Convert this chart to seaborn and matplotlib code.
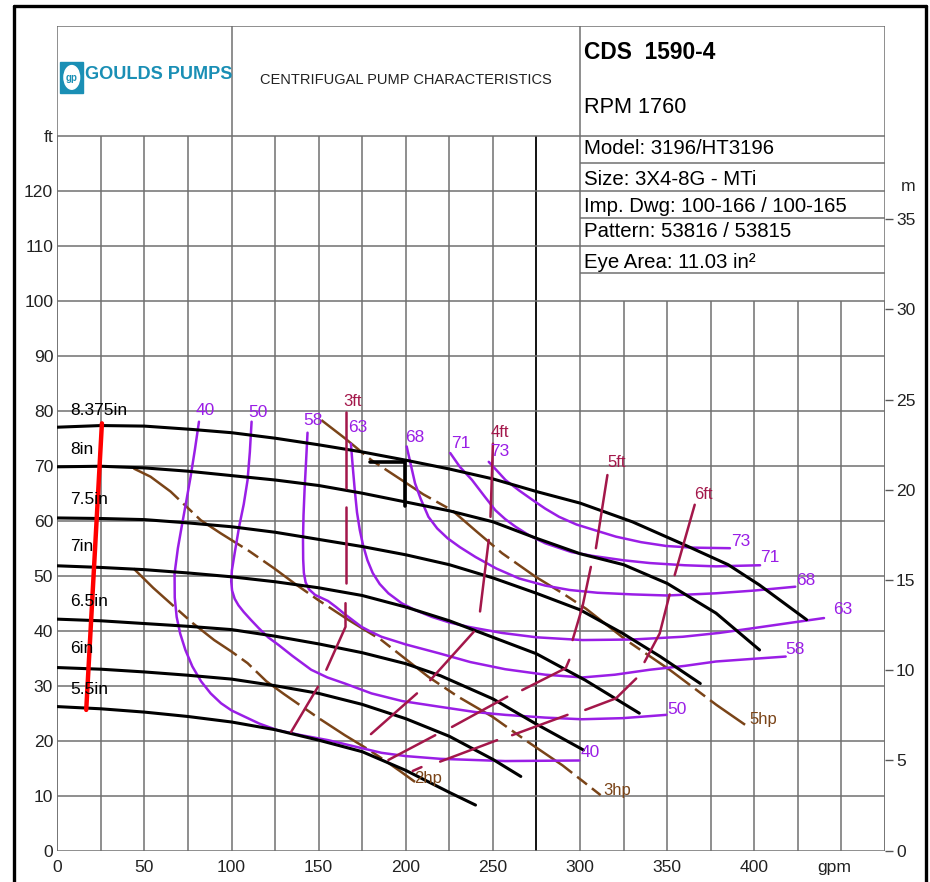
import pandas as pd
import matplotlib
matplotlib.use("Agg")
import matplotlib.pyplot as plt
import matplotlib.font_manager as fm
from matplotlib.lines import Line2D
from matplotlib.patches import Rectangle, Ellipse
import seaborn as sns

# impeller head curves (gpm, ft)
imp_labels = ["8.375in", "8in", "7.5in", "7in", "6.5in", "6in", "5.5in"]
imp_label_ft = [80, 72.9, 63.8, 55.3, 45.3, 36.8, 29.3]
h8375_q = [0, 25, 50, 77, 100, 125, 150, 175, 200, 225, 250, 275, 300, 330, 360, 385, 403, 430]
h8375_ft = [77.0, 77.3, 77.2, 76.6, 76.0, 75.0, 73.8, 72.5, 71.0, 69.4, 67.6, 65.3, 63.2, 59.8, 55.6, 52.0, 48.3, 42.0]
h8_q = [0, 25, 50, 75, 100, 125, 150, 175, 200, 225, 250, 275, 300, 325, 350, 378, 403]
h8_ft = [69.8, 69.9, 69.6, 69.0, 68.2, 67.4, 66.4, 65.0, 63.4, 61.8, 59.8, 56.8, 54.0, 52.0, 48.6, 43.2, 36.5]
h75_q = [0, 25, 50, 75, 100, 125, 150, 175, 200, 225, 250, 275, 300, 324, 346, 369]
h75_ft = [60.5, 60.4, 60.2, 59.6, 58.9, 57.9, 56.6, 55.3, 53.8, 52.0, 49.6, 46.8, 43.8, 39.6, 35.3, 30.4]
h7_q = [0, 25, 50, 75, 100, 125, 150, 175, 200, 225, 250, 275, 303, 334]
h7_ft = [51.8, 51.5, 51.1, 50.5, 49.8, 48.9, 47.8, 46.4, 44.3, 41.8, 38.8, 35.8, 31.0, 25.0]
h65_q = [0, 25, 50, 75, 100, 125, 150, 175, 200, 220, 250, 275, 302]
h65_ft = [42.1, 41.8, 41.3, 40.8, 40.2, 39.0, 37.6, 36.0, 34.0, 31.8, 27.6, 23.0, 18.3]
h6_q = [0, 25, 50, 75, 100, 125, 150, 175, 200, 225, 250, 266]
h6_ft = [33.3, 33.0, 32.5, 31.9, 31.2, 30.0, 28.6, 26.6, 24.0, 20.8, 16.6, 13.5]
h55_q = [0, 25, 50, 75, 100, 125, 150, 175, 200, 225, 240]
h55_ft = [26.2, 25.8, 25.2, 24.4, 23.4, 22.0, 20.1, 18.0, 14.6, 10.6, 8.3]

# efficiency contours (%)
eff_labels = ["40", "50", "58", "63", "68", "71", "73"]
e40_q = [81.3, 79.0, 76.5, 74.0, 71.7, 69.2, 67.3, 67.4, 68.5, 70.5, 73.5, 77.5, 82.5, 88.0, 94.0, 100.0, 107.3,
         116.0, 126.5, 140.0, 155.4, 170.0, 186.0, 200.0, 220.0, 257.0, 299.5]
e40_ft = [78.0, 73.0, 68.0, 63.5, 59.5, 55.0, 50.4, 46.0, 42.5, 39.5, 36.5, 33.5, 30.8, 28.6, 26.8, 25.5, 24.4,
          23.1, 21.9, 21.0, 20.1, 19.0, 17.8, 17.2, 16.7, 16.3, 16.4]
e50_q = [111.5, 110.5, 109.2, 107.0, 104.4, 102.0, 100.2, 99.8, 100.3, 101.8, 104.0, 107.0, 111.0, 115.5, 121.0,
         127.0, 135.0, 145.7, 155.0, 165.0, 180.3, 198.0, 218.8, 240.0, 257.0, 280.0, 301.0, 324.5, 349.5]
e50_ft = [78.0, 72.5, 67.4, 63.0, 59.0, 54.5, 51.0, 49.0, 47.3, 45.8, 44.6, 43.4, 42.0, 40.5, 38.8, 37.4, 35.4,
          32.9, 31.5, 30.4, 28.6, 27.2, 26.2, 25.2, 24.7, 24.2, 23.9, 24.1, 24.7]
e58_q = [143.6, 142.8, 141.9, 141.3, 141.0, 141.1, 141.5, 142.5, 144.5, 148.0, 152.0, 155.4, 160.0, 165.0, 170.0,
         174.6, 180.0, 186.0, 200.0, 219.0, 237.0, 257.0, 280.0, 301.4, 320.0, 340.0, 360.0, 378.0, 400.0, 418.0]
e58_ft = [76.0, 71.0, 65.6, 61.0, 56.5, 53.0, 50.5, 48.8, 47.5, 46.5, 45.9, 45.4, 44.3, 43.0, 41.8,
          40.7, 39.8, 38.9, 37.5, 35.9, 34.3, 33.0, 32.0, 31.5, 32.0, 32.9, 33.6, 34.4, 34.9, 35.3]
e63_q = [168.5, 169.5, 170.7, 172.0, 173.6, 175.5, 178.0, 181.0, 185.0, 190.0, 197.6, 205.0, 215.0, 225.0, 236.0,
         255.0, 275.0, 301.4, 330.0, 359.0, 380.0, 398.0, 420.0, 440.0]
e63_ft = [74.0, 70.0, 65.6, 61.5, 58.3, 55.5, 52.8, 50.5, 48.5, 46.8, 45.0, 43.8, 42.5, 41.5, 40.7,
          39.6, 38.8, 38.3, 38.4, 38.9, 39.6, 40.4, 41.4, 42.3]
e68_q = [200.5, 203.0, 205.3, 208.5, 213.0, 218.0, 224.0, 231.0, 240.0, 252.0, 265.0, 280.0, 294.0, 310.0, 330.0,
         350.0, 378.0, 400.0, 423.5]
e68_ft = [73.5, 70.0, 66.8, 64.0, 60.7, 58.6, 56.8, 55.2, 53.4, 51.3, 49.5, 48.2, 47.4, 46.9, 46.6,
          46.4, 46.8, 47.3, 48.0]
e71_q = [225.5, 231.0, 238.0, 245.0, 251.4, 257.0, 263.0, 271.0, 280.0, 295.0, 307.2, 325.0, 340.0, 360.0, 378.0, 403.3]
e71_ft = [72.3, 69.8, 67.4, 64.5, 61.9, 60.3, 58.9, 57.3, 55.9, 54.3, 53.6, 52.8, 52.3, 51.9, 51.7, 51.9]
e73_q = [247.6, 252.0, 257.2, 265.0, 272.6, 280.0, 288.0, 298.0, 307.2, 320.6, 335.0, 349.5, 365.0, 386.0]
e73_ft = [70.7, 69.2, 67.4, 65.5, 63.8, 62.2, 60.7, 59.3, 58.4, 57.1, 56.1, 55.4, 55.1, 55.0]
eff_left_pos = [(84.8, 80.1), (115.2, 79.6), (146.7, 78.3), (172.6, 76.9), (205.3, 75.2), (231.7, 74.1), (254.1, 72.5)]
eff_right_pos = [(305.7, 17.9), (355.6, 25.6), (423.4, 36.5), (450.9, 43.8), (429.7, 49.2), (409.0, 53.4), (392.3, 56.3)]

# NPSHr lines, drawn in separate pieces
npsh_labels = ["3ft", "4ft", "5ft", "6ft"]
npsh_label_pos = [(169.7, 81.6), (254.1, 76.1), (321.2, 70.5), (370.6, 64.8)]
n3_q = [165.4, 165.4, 165.4, 165.4, 165.4, 165.4, 154.4, 149.6, 134.2]
n3_ft = [79.8, 66.0, 62.5, 48.6, 45.0, 40.7, 32.9, 29.8, 21.6]
n3_seg = [0, 0, 1, 1, 2, 2, 2, 3, 3]
n4_q = [250.0, 248.6, 247.6, 242.6, 239.0, 214.0, 206.4, 180.0]
n4_ft = [74.0, 60.7, 56.5, 43.5, 39.8, 31.0, 28.6, 21.2]
n4_seg = [0, 0, 1, 1, 2, 2, 3, 3]
n5_q = [315.7, 309.1, 306.2, 301.4, 295.7, 293.8, 291.8, 266.8, 258.2, 226.5, 216.9, 190.0]
n5_ft = [68.3, 55.0, 51.6, 44.4, 38.3, 34.7, 33.2, 29.2, 28.0, 22.5, 21.0, 16.5]
n5_seg = [0, 0, 1, 1, 1, 2, 2, 2, 3, 3, 4, 4]
n6_q = [365.8, 354.3, 351.4, 345.7, 337.0, 332.2, 320.6, 303.0, 292.8, 261.0, 252.4, 219.7, 209.0, 204.0]
n6_ft = [62.9, 50.1, 46.6, 39.5, 34.3, 31.3, 27.7, 25.6, 24.7, 21.0, 20.1, 16.2, 15.2, 14.5]
n6_seg = [0, 0, 1, 1, 1, 2, 2, 2, 3, 3, 4, 4, 5, 5]

# power lines (hp)
hp_labels = ["2hp", "3hp", "5hp"]
hp_label_pos = [(212.7, 13.2), (321.2, 11.0), (405.0, 23.8)]
p2_q = [43.8, 55.0, 67.0, 78.0, 90.0, 100.0, 109.2, 120.0, 130.0, 140.0, 150.0, 165.0, 178.0, 188.0, 197.0, 205.3]
p2_ft = [51.3, 47.8, 44.4, 41.3, 38.3, 36.2, 34.1, 30.8, 28.5, 26.3, 24.1, 21.0, 18.5, 16.4, 14.4, 12.5]
p3_q = [43.8, 53.5, 65.0, 82.3, 93.8, 110.0, 124.6, 136.1, 149.6, 166.9, 186.0, 213.0, 230.0, 249.5, 270.0, 290.0, 311.8]
p3_ft = [69.5, 68.0, 65.3, 60.1, 57.7, 54.5, 51.3, 48.6, 45.6, 42.0, 38.3, 31.6, 28.0, 24.4, 19.8, 15.5, 10.1]
p5_q = [151.5, 165.0, 180.3, 197.6, 210.0, 226.5, 240.0, 255.2, 274.5, 290.0, 303.4, 326.4, 351.4, 378.3, 394.7]
p5_ft = [78.3, 75.0, 71.0, 67.4, 64.8, 61.9, 58.2, 54.1, 49.8, 46.8, 44.0, 38.3, 32.9, 26.5, 22.9]

# minimum flow line and BEP marker
minflow_q = [25.6, 16.6]
minflow_ft = [77.7, 25.6]
bep_q = [179.4, 199.5, 199.5]
bep_ft = [70.7, 70.7, 62.7]

table_rows = ["Model: 3196/HT3196", "Size: 3X4-8G - MTi", "Imp. Dwg: 100-166 / 100-165",
              "Pattern: 53816 / 53815", "Eye Area: 11.03 in\u00b2"]
table_row_ft = [127.6, 122.1, 117.2, 112.5, 107.0]

PURPLE = "#9A1EE6"
CRIMSON = "#A3174A"
BROWN = "#7A4418"
TEAL = "#1A8FB5"
GRID = "#707070"

sns.set_theme(style="white")
narrow_ok = any(f.name == "Liberation Sans Narrow" for f in fm.fontManager.ttflist)
NARROW = "Liberation Sans Narrow" if narrow_ok else "Liberation Sans"
k = 1.0 if narrow_ok else 0.84
plt.rcParams["font.family"] = ["Liberation Sans", "DejaVu Sans"]

fig = plt.figure(figsize=(9.3, 8.82), dpi=100)
ax = fig.add_axes([57.3 / 930, 1 - 850.7 / 882, (885 - 57.3) / 930, 825 / 882])


def long_df(names, qs, fts):
    return pd.concat([pd.DataFrame({"gpm": q, "ft": f, "curve": n}) for n, q, f in zip(names, qs, fts)],
                     ignore_index=True)


# grid and header table
ax.vlines(range(0, 251, 25), 0, 130, color=GRID, lw=1.1, zorder=0)
ax.vlines(275, 0, 130, color="black", lw=1.3, zorder=0)
ax.vlines(range(300, 476, 25), 0, 100, color=GRID, lw=1.1, zorder=0)
ax.hlines(range(0, 101, 10), 0, 475, color=GRID, lw=1.1, zorder=0)
ax.hlines([110, 120, 130, 150], 0, 475, color=GRID, lw=1.1, zorder=0)
ax.hlines([105, 115, 125], 300, 475, color=GRID, lw=1.1, zorder=0)
ax.vlines([0, 475], 0, 150, color=GRID, lw=1.1, zorder=0)
ax.vlines(100, 130, 150, color=GRID, lw=1.1, zorder=0)
ax.vlines(300, 100, 150, color=GRID, lw=1.1, zorder=0)

head = long_df(imp_labels, [h8375_q, h8_q, h75_q, h7_q, h65_q, h6_q, h55_q],
               [h8375_ft, h8_ft, h75_ft, h7_ft, h65_ft, h6_ft, h55_ft])
eff = long_df(eff_labels, [e40_q, e50_q, e58_q, e63_q, e68_q, e71_q, e73_q],
              [e40_ft, e50_ft, e58_ft, e63_ft, e68_ft, e71_ft, e73_ft])
power = long_df(hp_labels, [p2_q, p3_q, p5_q], [p2_ft, p3_ft, p5_ft])
npsh = pd.concat([pd.DataFrame({"gpm": q, "ft": f, "curve": [f"{n}-{s}" for s in seg]})
                  for n, q, f, seg in zip(npsh_labels, [n3_q, n4_q, n5_q, n6_q], [n3_ft, n4_ft, n5_ft, n6_ft],
                                          [n3_seg, n4_seg, n5_seg, n6_seg])], ignore_index=True)

sns.lineplot(data=power, x="gpm", y="ft", units="curve", estimator=None, sort=False,
             color=BROWN, lw=1.8, linestyle=(0, (22, 2.5, 5, 2.5)), ax=ax, legend=False, zorder=2)
sns.lineplot(data=eff, x="gpm", y="ft", units="curve", estimator=None, sort=False,
             color=PURPLE, lw=1.8, ax=ax, legend=False, zorder=3)
sns.lineplot(data=head, x="gpm", y="ft", units="curve", estimator=None, sort=False,
             color="black", lw=2.2, ax=ax, legend=False, zorder=4)
sns.lineplot(data=npsh, x="gpm", y="ft", units="curve", estimator=None, sort=False,
             color=CRIMSON, lw=1.8, ax=ax, legend=False, zorder=5)
sns.lineplot(x=minflow_q, y=minflow_ft, sort=False, estimator=None, color="red", lw=3.2, ax=ax, zorder=6)
sns.lineplot(x=bep_q, y=bep_ft, sort=False, estimator=None, color="black", lw=2.6, ax=ax, zorder=6)

# labels on the curves
for lab, y in zip(imp_labels, imp_label_ft):
    ax.text(7.3, y, lab, ha="left", va="center", fontsize=12.5, color="black", zorder=7)
for lab, (x, y) in zip(eff_labels, eff_left_pos):
    ax.text(x, y, lab, ha="center", va="center", fontsize=12.5, color=PURPLE, zorder=7)
for lab, (x, y) in zip(eff_labels, eff_right_pos):
    ax.text(x, y, lab, ha="center", va="center", fontsize=12.5, color=PURPLE, zorder=7)
for lab, (x, y) in zip(npsh_labels, npsh_label_pos):
    ax.text(x, y, lab, ha="center", va="center", fontsize=12, color=CRIMSON, zorder=7)
for lab, (x, y) in zip(hp_labels, hp_label_pos):
    ax.text(x, y, lab, ha="center", va="center", fontsize=12, color=BROWN, zorder=7)

# header
ax.add_patch(Rectangle((1.8, 137.8), 13.0, 5.6, color=TEAL, zorder=5))
ax.add_patch(Ellipse((8.3, 140.6), 9.0, 4.3, color="white", zorder=6))
ax.text(8.3, 140.5, "gp", ha="center", va="center", fontsize=7, color=TEAL, weight="bold", zorder=7)
ax.text(16.0, 141.2, "GOULDS PUMPS", ha="left", va="center", fontsize=15.5 * k, color=TEAL,
        weight="bold", family=NARROW)
ax.text(200, 140.1, "CENTRIFUGAL PUMP CHARACTERISTICS", ha="center", va="center",
        fontsize=12.5 * k, family=NARROW, color="#222222")
ax.text(302, 145.2, "CDS  1590-4", ha="left", va="center", fontsize=19.5 * k, weight="bold",
        family=NARROW, color="black")
ax.text(302, 135.2, "RPM 1760", ha="left", va="center", fontsize=18.5 * k, family=NARROW, color="black")
for row, y in zip(table_rows, table_row_ft):
    ax.text(302, y, row, ha="left", va="center", fontsize=17.5 * k, family=NARROW, color="black")

ax.set_xlim(0, 475)
ax.set_ylim(0, 150)
ax.set_xlabel("")
ax.set_ylabel("")
for s in ax.spines.values():
    s.set_visible(False)
ax.set_xticks(list(range(0, 401, 50)) + [446])
ax.set_xticklabels([str(v) for v in range(0, 401, 50)] + ["gpm"])
ax.set_yticks(list(range(0, 121, 10)) + [130])
ax.set_yticklabels([str(v) for v in range(0, 121, 10)] + ["ft"])
ax.tick_params(axis="both", length=0, labelsize=15 * k, colors="#222222")
ax.tick_params(axis="x", pad=7)
ax.tick_params(axis="y", pad=3)
for lab in ax.get_xticklabels() + ax.get_yticklabels():
    lab.set_fontfamily(NARROW)

# metres on the right
ax2 = ax.twinx()
ax2.set_ylim(0, 150 * 0.3048)
ax2.set_yticks(range(0, 36, 5))
ax2.tick_params(axis="y", direction="out", length=6, width=1, color="#555555", pad=2,
                labelsize=15 * k, labelcolor="#222222")
for lab in ax2.get_yticklabels():
    lab.set_fontfamily(NARROW)
for s in ax2.spines.values():
    s.set_visible(False)
ax2.text(488, 36.8, "m", ha="center", va="center", fontsize=15 * k, family=NARROW, color="#222222",
         clip_on=False)

# outer frame
for xs, ys in [([14 / 930, 14 / 930], [0, 1 - 6 / 882]), ([14 / 930, 926 / 930], [1 - 6 / 882, 1 - 6 / 882]),
               ([926 / 930, 926 / 930], [0, 1 - 6 / 882])]:
    fig.add_artist(Line2D(xs, ys, transform=fig.transFigure, color="black", lw=2.4))

fig.savefig("out.png", dpi=100, facecolor="white")
